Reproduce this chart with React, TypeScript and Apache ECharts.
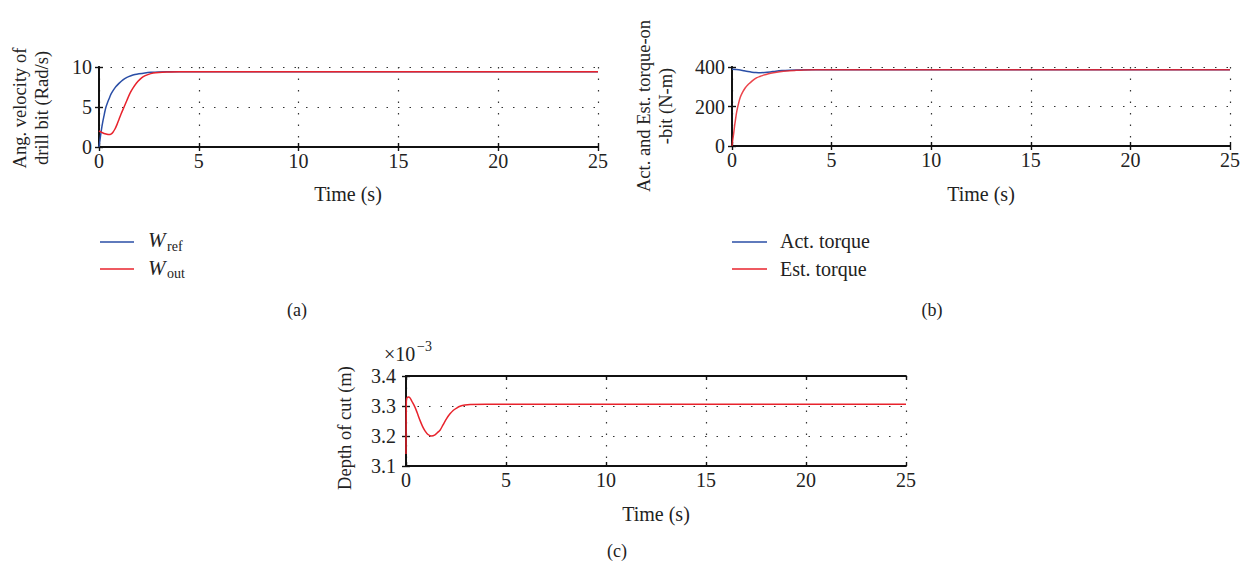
import React, { useEffect, useRef } from "react";
import * as echarts from "echarts";

// Panel (a): angular velocity of drill bit (Rad/s)
const timeRef = [0, 0.05, 0.1, 0.15, 0.2, 0.25, 0.3, 0.35, 0.42, 0.5, 0.6, 0.72, 0.85, 1.0, 1.2, 1.4, 1.6, 1.8, 2.0, 2.3, 2.6, 3.0, 3.5, 4.0, 25];
const wRef = [0, 0.9, 1.8, 2.6, 3.3, 3.9, 4.5, 5.0, 5.5, 6.0, 6.6, 7.1, 7.55, 7.95, 8.4, 8.7, 8.9, 9.05, 9.15, 9.26, 9.33, 9.38, 9.4, 9.41, 9.41];
const timeOut = [0, 0.1, 0.2, 0.3, 0.4, 0.5, 0.6, 0.7, 0.8, 0.9, 1.0, 1.1, 1.25, 1.4, 1.55, 1.7, 1.88, 2.05, 2.22, 2.45, 2.72, 3.0, 3.38, 4.0, 25];
const wOut = [2.0, 1.88, 1.75, 1.65, 1.58, 1.55, 1.62, 1.85, 2.25, 2.8, 3.45, 4.1, 4.96, 5.85, 6.7, 7.35, 8.0, 8.45, 8.8, 9.05, 9.24, 9.32, 9.37, 9.41, 9.41];

// Panel (b): actual and estimated torque-on-bit (N-m)
const timeAct = [0, 0.2, 0.42, 0.6, 0.8, 1.0, 1.2, 1.42, 1.65, 1.92, 2.2, 2.5, 2.9, 3.25, 4.0, 25];
const actTorque = [388, 387, 385, 381, 377, 374, 372, 371, 372, 375, 379, 382, 384, 385, 386, 386];
const timeEst = [0, 0.04, 0.083, 0.125, 0.17, 0.21, 0.25, 0.33, 0.42, 0.54, 0.67, 0.8, 0.92, 1.08, 1.25, 1.42, 1.58, 1.83, 2.08, 2.4, 2.75, 3.2, 3.6, 4.2, 25];
const estTorque = [0, 32, 62, 98, 130, 157, 180, 216, 248, 274, 295, 310, 321, 335, 346, 353, 359, 366, 371, 376, 380, 383, 385, 386, 386];

// Panel (c): depth of cut (x10^-3 m)
const timeDepth = [0, 0.02, 0.06, 0.12, 0.2, 0.3, 0.4, 0.5, 0.6, 0.7, 0.82, 0.95, 1.1, 1.28, 1.45, 1.6, 1.7, 1.85, 2.03, 2.2, 2.37, 2.55, 2.7, 2.95, 3.2, 4.0, 25];
const depth = [3.14, 3.32, 3.328, 3.33, 3.327, 3.315, 3.303, 3.288, 3.27, 3.252, 3.233, 3.217, 3.205, 3.2, 3.204, 3.213, 3.219, 3.237, 3.258, 3.274, 3.286, 3.294, 3.299, 3.303, 3.305, 3.306, 3.306];

const timeTicks = [0, 25, 5];
const yRanges = [
  [0, 10, 5],
  [0, 400, 200],
  [3.1, 3.4, 0.1],
];

const FONT = "'Liberation Serif', 'Times New Roman', serif";
const BLUE = "#2a4ea6";
const RED = "#e8232c";

const zip = (xs: number[], ys: number[]) => xs.map((x, i) => [x, ys[i]]);

export default function App() {
  const ref = useRef<HTMLDivElement>(null);
  useEffect(() => {
    if (!ref.current) return;
    const chart = echarts.init(ref.current, undefined, { renderer: "svg" });
    const grids = [
      { left: 99, top: 67, width: 499, height: 80 },
      { left: 732, top: 67, width: 498, height: 79 },
      { left: 406, top: 376, width: 500, height: 90 },
    ];
    const dotted = { color: "#333", width: 1.2, type: [1.5, 10] as number[] };
    const xAxis: any[] = [];
    const yAxis: any[] = [];
    grids.forEach((_, i) => {
      const [xmin, xmax, xint] = timeTicks;
      const [ymin, ymax, yint] = yRanges[i];
      const common = {
        type: "value",
        gridIndex: i,
        axisLine: { show: true, lineStyle: { color: "#111", width: 1.8 } },
        axisTick: { show: true, inside: true, length: 4, lineStyle: { color: "#111", width: 1.4 } },
      };
      xAxis.push({
        ...common,
        position: "bottom",
        min: xmin,
        max: xmax,
        interval: xint,
        axisLabel: { color: "#222", fontFamily: FONT, fontSize: 20, margin: 4 },
        splitLine: { show: true, lineStyle: dotted },
      });
      xAxis.push({
        ...common,
        position: "top",
        min: xmin,
        max: xmax,
        interval: xint,
        axisLabel: { show: false },
        splitLine: { show: false },
      });
      yAxis.push({
        ...common,
        position: "left",
        min: ymin,
        max: ymax,
        interval: yint,
        axisLabel: { color: "#222", fontFamily: FONT, fontSize: 20, margin: i === 2 ? 10 : 7 },
        splitLine: { show: true, lineStyle: dotted },
      });
      yAxis.push({
        ...common,
        position: "right",
        min: ymin,
        max: ymax,
        interval: yint,
        axisLabel: { show: false },
        splitLine: { show: false },
      });
    });

    const line = (data: number[][], color: string, g: number, opacity = 1) => ({
      type: "line",
      xAxisIndex: 2 * g,
      yAxisIndex: 2 * g,
      data,
      showSymbol: false,
      symbol: "none",
      smooth: 0.3,
      lineStyle: { color, width: 1.5, opacity },
    });

    const txt = (text: string, x: number, y: number, size = 19, extra: any = {}) => ({
      type: "text",
      x,
      y,
      style: {
        text,
        fontFamily: FONT,
        fontSize: size,
        fill: "#222",
        textAlign: "center",
        textVerticalAlign: "middle",
        verticalAlign: "middle",
        ...extra,
      },
    });
    const rot = (text: string, x: number, y: number, size = 18.5) => ({
      ...txt(text, x, y, size),
      rotation: Math.PI / 2,
    });
    const legLine = (x1: number, x2: number, y: number, color: string) => ({
      type: "line",
      shape: { x1, y1: y, x2, y2: y },
      style: { stroke: color, lineWidth: 1.5 },
    });

    chart.setOption({
      animation: false,
      backgroundColor: "#fff",
      grid: grids,
      xAxis,
      yAxis,
      series: [
        line(zip(timeRef, wRef), BLUE, 0),
        line(zip(timeOut, wOut), RED, 0),
        line(zip(timeAct, actTorque), BLUE, 1),
        line(zip(timeEst, estTorque), RED, 1, 0.85),
        line(zip(timeDepth, depth), RED, 2),
      ],
      graphic: [
        rot("Ang. velocity of", 20, 108),
        rot("drill bit (Rad/s)", 42, 108),
        rot("Act. and Est. torque-on", 644, 106),
        rot("-bit (N-m)", 666, 106),
        rot("Depth of cut (m)", 345, 428),
        txt("Time (s)", 348, 194, 20),
        txt("Time (s)", 981, 194, 20),
        txt("Time (s)", 656, 514, 20),
        txt("(a)", 297, 310, 18),
        txt("(b)", 932, 310, 18),
        txt("(c)", 617, 551, 18),
        txt("×10", 384, 354, 20, { textAlign: "left" }),
        txt("−3", 417, 346, 14, { textAlign: "left" }),
        legLine(100, 134, 242, BLUE),
        legLine(100, 134, 269, RED),
        txt("W", 148, 240, 21, { textAlign: "left", fontStyle: "italic" }),
        txt("ref", 167, 246, 14, { textAlign: "left" }),
        txt("W", 148, 268, 21, { textAlign: "left", fontStyle: "italic" }),
        txt("out", 167, 273, 14, { textAlign: "left" }),
        legLine(732, 767, 242, BLUE),
        legLine(732, 767, 269, RED),
        txt("Act. torque", 780, 241, 20, { textAlign: "left" }),
        txt("Est. torque", 780, 269, 20, { textAlign: "left" }),
      ],
    });
    return () => chart.dispose();
  }, []);
  return (
    <div
      ref={ref}
      style={{ position: "fixed", left: 0, top: 0, width: 1251, height: 571, background: "#fff" }}
    />
  );
}
